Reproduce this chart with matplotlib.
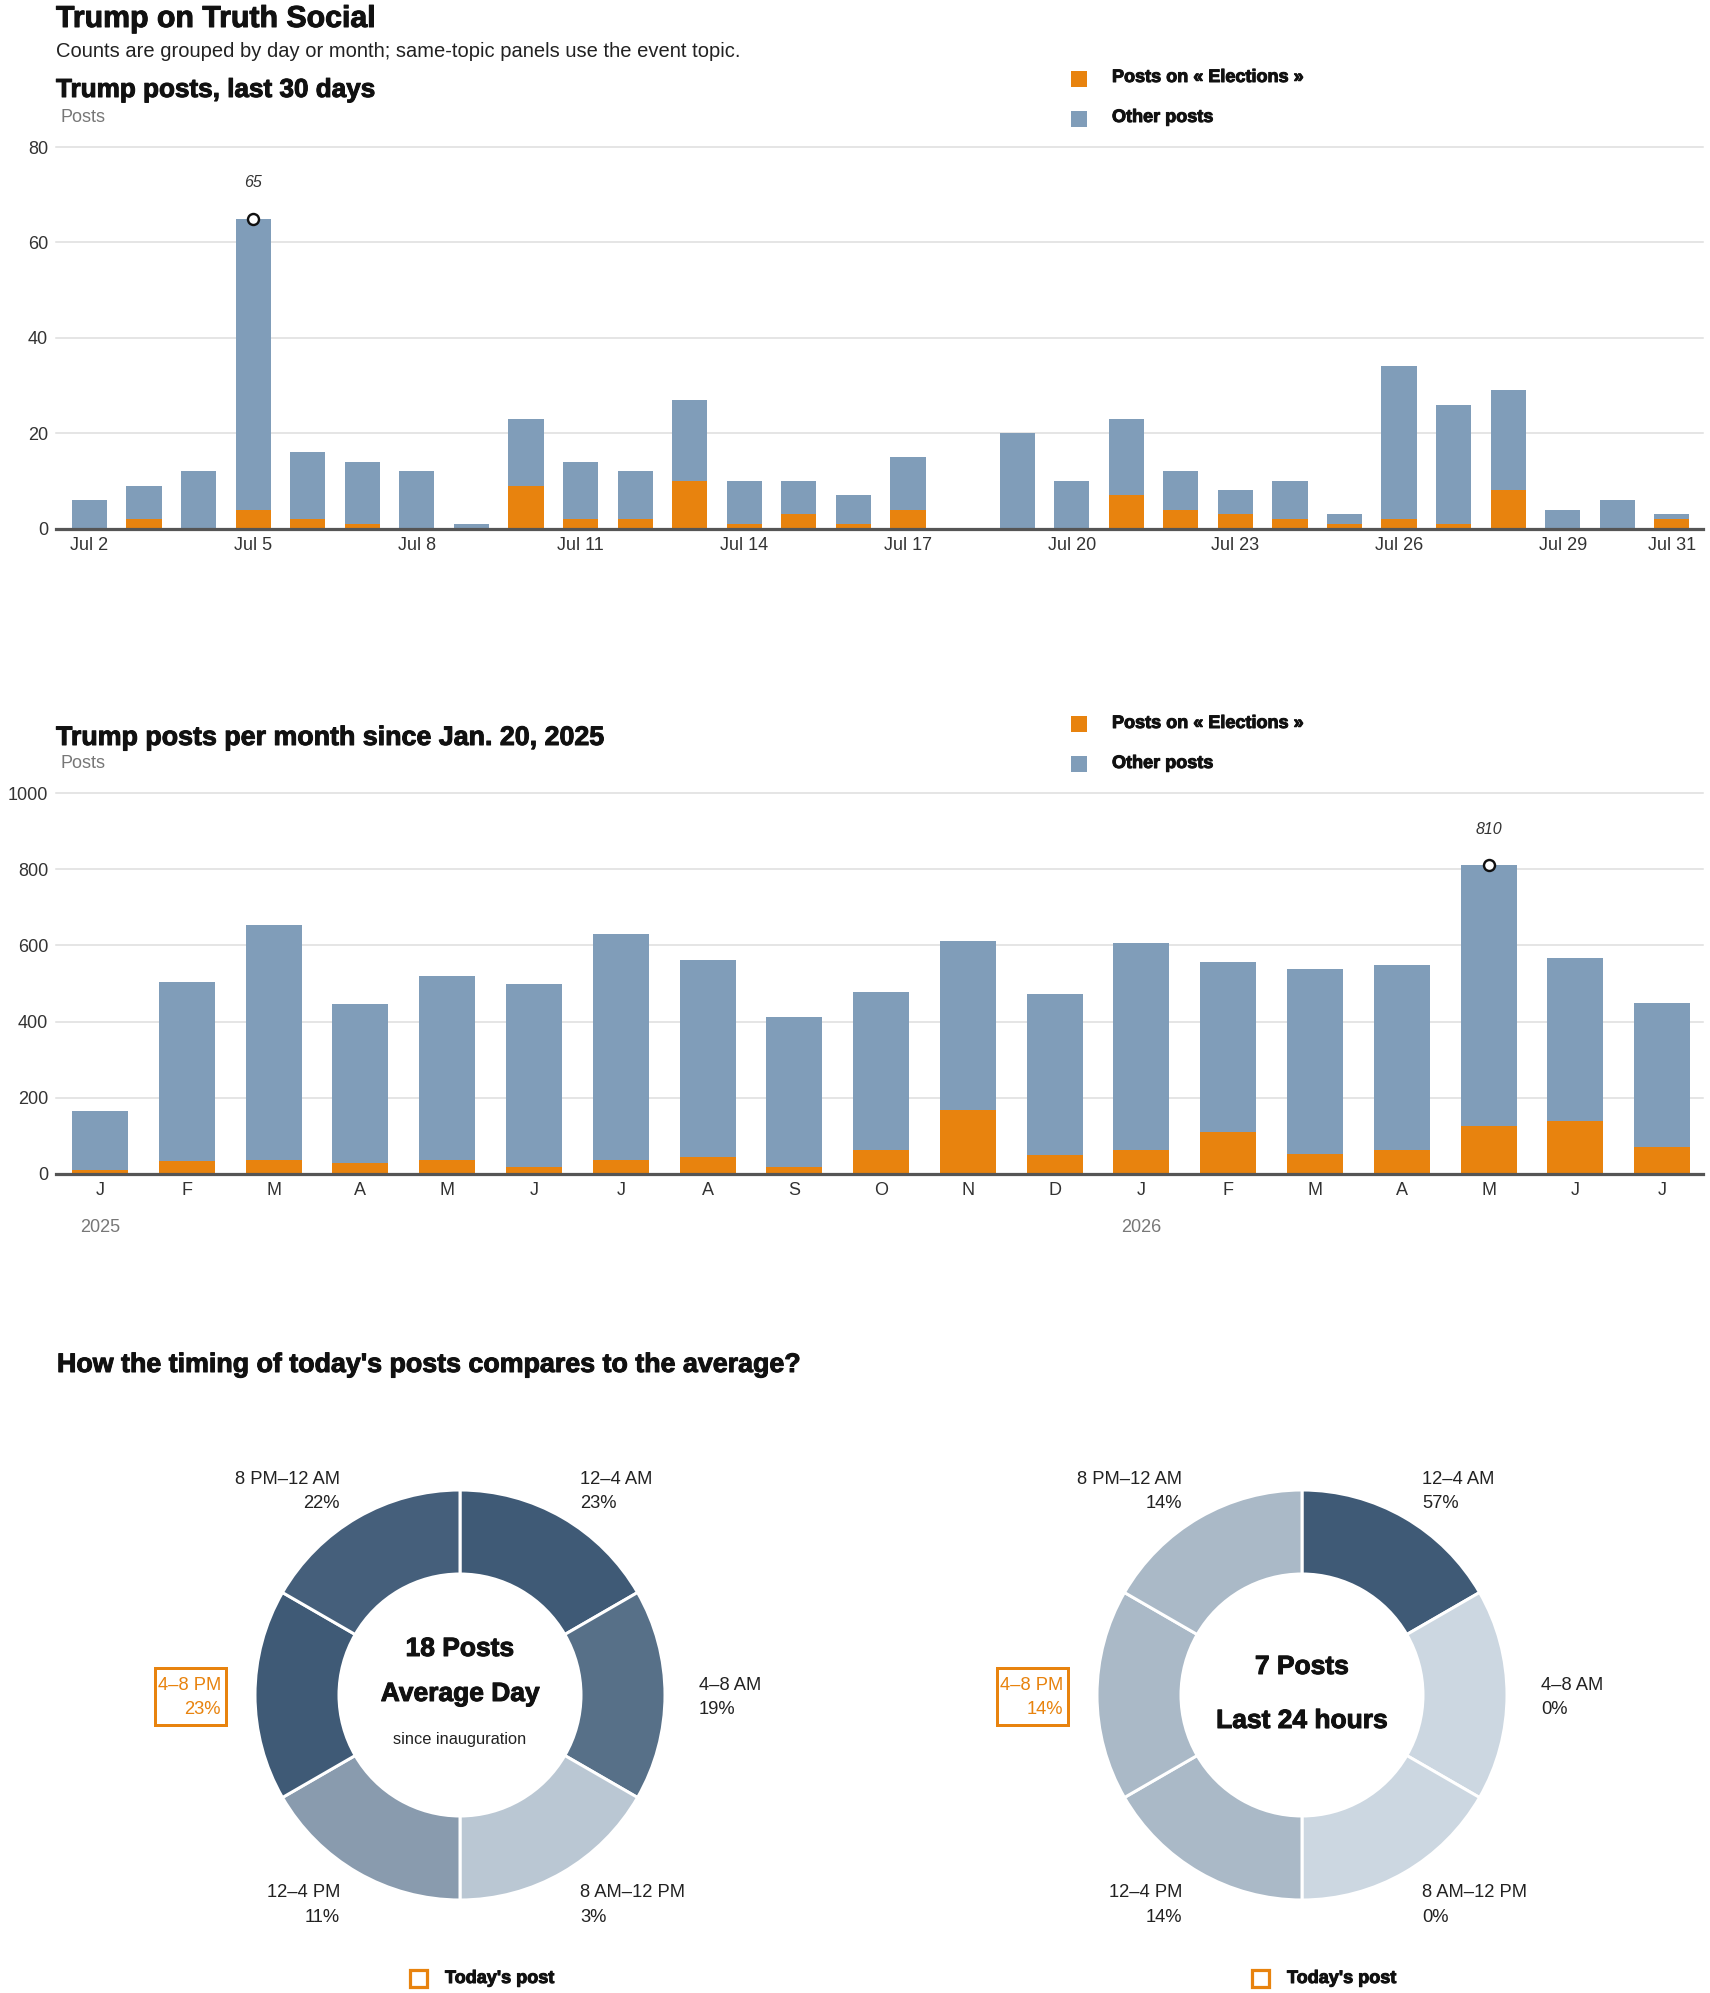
import matplotlib
matplotlib.use("Agg")
import matplotlib.pyplot as plt
from matplotlib import font_manager as fm
from matplotlib.patches import Rectangle
import matplotlib.colors as mcolors
import matplotlib.patheffects as pe
import numpy as np

# ---------------- data ----------------
day_numbers = [2, 3, 4, 5, 6, 7, 8, 9, 10, 11, 12, 13, 14, 15, 16, 17, 18, 19, 20,
               21, 22, 23, 24, 25, 26, 27, 28, 29, 30, 31]
daily_total = [6, 9, 12, 65, 16, 14, 12, 1, 23, 14, 12, 27, 10, 10, 7, 15, 0, 20, 10,
               23, 12, 8, 10, 3, 34, 26, 29, 4, 6, 3]
daily_elections = [0, 2, 0, 4, 2, 1, 0, 0, 9, 2, 2, 10, 1, 3, 1, 4, 0, 0, 0,
                   7, 4, 3, 2, 1, 2, 1, 8, 0, 0, 2]
daily_tick_days = [2, 5, 8, 11, 14, 17, 20, 23, 26, 29, 31]
daily_peak_label = "65"

month_labels = ["J", "F", "M", "A", "M", "J", "J", "A", "S", "O", "N", "D",
                "J", "F", "M", "A", "M", "J", "J"]
monthly_total = [165, 504, 654, 447, 520, 500, 631, 562, 412, 478, 612, 473,
                 607, 557, 539, 549, 810, 568, 450]
monthly_elections = [10, 34, 37, 30, 37, 19, 37, 45, 19, 64, 169, 51,
                     64, 109, 53, 64, 126, 139, 71]
year_labels = ["2025", "2026"]
year_start_index = [0, 12]
monthly_peak_label = "810"

slots = ["12–4 AM", "4–8 AM", "8 AM–12 PM", "12–4 PM", "4–8 PM", "8 PM–12 AM"]
avg_pct = [23, 19, 3, 11, 23, 22]
today_pct = [57, 0, 0, 14, 14, 14]
highlight_slot = "4–8 PM"

# ---------------- style ----------------
W, H = 1710, 1993
ORANGE = "#E8830E"
BLUE = "#809DB9"
DARK = "#3F5A76"
LIGHT = "#CCD7E1"
TXT = "#222222"
GRAY = "#777777"
GRID = "#dddddd"

names = {f.name for f in fm.fontManager.ttflist}
def pick(*cands):
    for c in cands:
        if c in names:
            return c
    return "DejaVu Sans"

REG = pick("Liberation Sans", "Noto Sans", "DejaVu Sans")
HEAVY_FAM = REG
HEAVY_W = "bold"

plt.rcParams["font.family"] = [REG, "DejaVu Sans"]
plt.rcParams["text.color"] = TXT

fig = plt.figure(figsize=(W / 100, H / 100), dpi=100)
fig.patch.set_facecolor("white")

def px(v):  # pixels -> points
    return v * 0.72

def rect(l, t, r, b):
    return [l / W, 1 - b / H, (r - l) / W, (b - t) / H]

def ftext(x, y, s, **kw):
    kw.setdefault("va", "baseline")
    return fig.text(x / W, 1 - y / H, s, **kw)

def heavy(x, y, s, size, **kw):
    t = ftext(x, y, s, fontsize=size, family=[HEAVY_FAM, "DejaVu Sans"],
              fontweight=HEAVY_W, color="#111111", **kw)
    t.set_path_effects([pe.withStroke(linewidth=px(1.0), foreground="#111111")])
    return t

def fsquare(x, y, w, h, fill=True, color=ORANGE, lw=0):
    r = Rectangle((x / W, 1 - (y + h) / H), w / W, h / H, transform=fig.transFigure,
                  facecolor=color if fill else "none", edgecolor=color,
                  linewidth=lw, zorder=5)
    fig.add_artist(r)

# ---------------- headers ----------------
heavy(56, 27, "Trump on Truth Social", 21.8)
ftext(56, 57, "Counts are grouped by day or month; same-topic panels use the event topic.",
      fontsize=14.5, color=TXT)

def bar_panel(axrect, xvals, total, elections, ymax, yticks, xlim):
    ax = fig.add_axes(axrect)
    other = [t - e for t, e in zip(total, elections)]
    ax.bar(xvals, elections, width=0.645, color=ORANGE, zorder=3)
    ax.bar(xvals, other, bottom=elections, width=0.645, color=BLUE, zorder=3)
    ax.set_ylim(0, ymax)
    ax.set_xlim(*xlim)
    ax.set_yticks(yticks)
    for yv in yticks[1:]:
        ax.axhline(yv, color=GRID, lw=px(1.5), zorder=1, clip_on=False)
    ax.axhline(0, color="#555555", lw=px(3.2), zorder=4, clip_on=False)
    for s in ax.spines.values():
        s.set_visible(False)
    ax.tick_params(axis="y", length=0, pad=px(8), labelsize=13, labelcolor="#333333")
    ax.tick_params(axis="x", length=0, pad=px(8), labelsize=13, labelcolor="#333333")
    ax.set_facecolor("none")
    return ax

def peak(ax, i, v, label):
    ax.plot([i], [v], marker="o", ms=px(11), mfc="white", mec="#111111",
            mew=px(2.4), zorder=6, clip_on=False)
    ax.annotate(label, xy=(i, v), xytext=(0, px(36)), textcoords="offset points",
                ha="center", va="center", fontsize=11.5, style="italic", color="#333333")

# ---------------- daily panel ----------------
heavy(56, 97, "Trump posts, last 30 days", 18.8)
ftext(60, 122, "Posts", fontsize=13, color=GRAY)
fsquare(1071, 71, 16, 16, color=ORANGE)
fsquare(1071, 111, 16, 16, color=BLUE)
heavy(1112, 82, "Posts on « Elections »", 13)
heavy(1112, 122, "Other posts", 13)

xd = list(range(len(day_numbers)))
axd = bar_panel(rect(56, 147, 1703, 528.6), xd, daily_total, daily_elections,
                80, [0, 20, 40, 60, 80], (-0.614, 29.57))
axd.set_xticks([day_numbers.index(d) for d in daily_tick_days])
axd.set_xticklabels([f"Jul {d}" for d in daily_tick_days])
ip = int(np.argmax(daily_total))
peak(axd, ip, daily_total[ip], daily_peak_label)

# ---------------- monthly panel ----------------
heavy(56, 745, "Trump posts per month since Jan. 20, 2025", 19.3)
ftext(60, 768, "Posts", fontsize=13, color=GRAY)
fsquare(1071, 716, 16, 16, color=ORANGE)
fsquare(1071, 756, 16, 16, color=BLUE)
heavy(1112, 728, "Posts on « Elections »", 13)
heavy(1112, 768, "Other posts", 13)

xm = list(range(len(month_labels)))
axm = bar_panel(rect(56, 793, 1703, 1174), xm, monthly_total, monthly_elections,
                1000, [0, 200, 400, 600, 800, 1000], (-0.507, 18.47))
axm.set_xticks(xm)
axm.set_xticklabels(month_labels)
for lab, i0 in zip(year_labels, year_start_index):
    axm.annotate(lab, xy=(i0, 0), xycoords=("data", "axes fraction"),
                 xytext=(0, -px(53)), textcoords="offset points",
                 ha="center", va="center", fontsize=13, color=GRAY)
im = int(np.argmax(monthly_total))
peak(axm, im, monthly_total[im], monthly_peak_label)

# ---------------- donuts ----------------
heavy(57, 1372, "How the timing of today's posts compares to the average?", 19.3)

cmap = mcolors.LinearSegmentedColormap.from_list("blues", [LIGHT, DARK])

def donut(cx, cy, pct, center_lines):
    R = 205.0
    half = 250.0
    ax = fig.add_axes(rect(cx - half, cy - half, cx + half, cy + half))
    mx = max(pct) if max(pct) > 0 else 1
    cols = [cmap(p / mx) for p in pct]
    ax.pie([1] * len(slots), colors=cols, startangle=90, counterclock=False,
           radius=1.0, wedgeprops=dict(width=(205 - 121) / R, edgecolor="white",
                                       linewidth=px(3)))
    ax.set_xlim(-half / R, half / R)
    ax.set_ylim(-half / R, half / R)
    ax.set_aspect("equal")
    ax.axis("off")
    pos = {
        0: (cx + 120, 1484, "left"),
        1: (cx + 239, 1690, "left"),
        2: (cx + 120, 1897, "left"),
        3: (cx - 120, 1897, "right"),
        4: (cx - 239, 1690, "right"),
        5: (cx - 120, 1484, "right"),
    }
    for i, (s, p) in enumerate(zip(slots, pct)):
        x, y, ha = pos[i]
        col = ORANGE if s == highlight_slot else TXT
        ftext(x, y, s, fontsize=13.2, ha=ha, color=col)
        ftext(x, y + 24.5, f"{p}%", fontsize=13.2, ha=ha, color=col)
        if s == highlight_slot:
            r = Rectangle(((cx - 305) / W, 1 - 1725 / H), 71 / W, 57 / H,
                          transform=fig.transFigure, facecolor="none",
                          edgecolor=ORANGE, linewidth=px(3), zorder=5)
            fig.add_artist(r)
    for (txt, y, size, bold) in center_lines:
        if bold:
            heavy(cx, y, txt, size, ha="center")
        else:
            ftext(cx, y, txt, fontsize=size, ha="center", color=TXT)
    fsquare(cx - 50, 1970, 17, 17, fill=False, color=ORANGE, lw=px(3.2))
    heavy(cx - 15, 1983, "Today's post", 13)

donut(460, 1695, avg_pct, [("18 Posts", 1656, 19, True),
                           ("Average Day", 1701, 19, True),
                           ("since inauguration", 1744, 11.8, False)])
donut(1302, 1695, today_pct, [("7 Posts", 1674, 19, True),
                              ("Last 24 hours", 1728, 19, True)])

fig.savefig("out.png", dpi=100, facecolor="white")
